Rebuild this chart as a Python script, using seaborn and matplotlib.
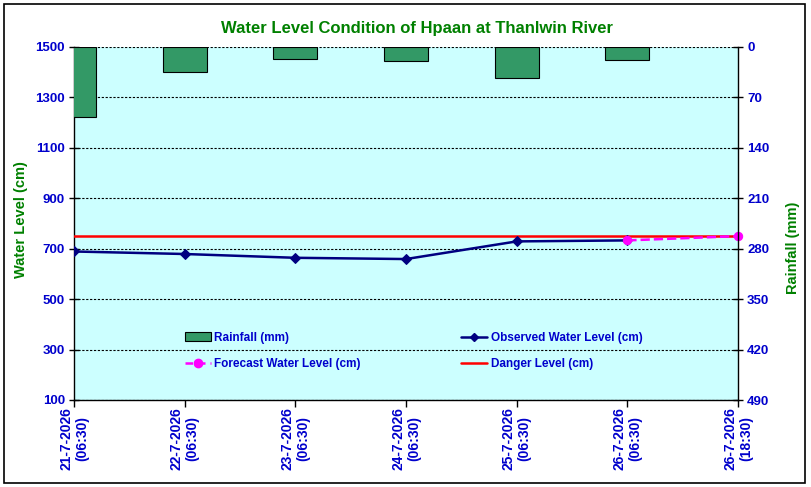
import matplotlib
matplotlib.use("Agg")
import matplotlib.pyplot as plt
from matplotlib.lines import Line2D
from matplotlib.patches import Patch, Rectangle
import seaborn as sns
import numpy as np

# ---- data ----
tick_labels = ["21-7-2026\n(06:30)", "22-7-2026\n(06:30)", "23-7-2026\n(06:30)",
               "24-7-2026\n(06:30)", "25-7-2026\n(06:30)", "26-7-2026\n(06:30)",
               "26-7-2026\n(18:30)"]
rain_pos = [0, 1, 2, 3, 4, 5]
rainfall_mm = [97, 35, 17, 20, 43, 18]
obs_pos = [0, 1, 2, 3, 4, 5]
observed_cm = [689, 679, 664, 659, 729, 733]
fc_pos = [5, 6]
forecast_cm = [733, 750]
danger_cm = 750

sns.set_theme(style="white")
plt.rcParams['font.family'] = ['Liberation Sans', 'DejaVu Sans']
plt.rcParams['font.weight'] = 'bold'

BLUE = '#0000CC'
GREEN = '#008000'

fig = plt.figure(figsize=(8.11, 4.87), dpi=100)
fig.patch.set_facecolor('white')
ax1 = fig.add_axes([74/811, 1-400/487, (738-74)/811, (400-47)/487])
ax1.set_facecolor('#CCFFFF')
ax2 = ax1.twinx()
ax2.set_facecolor('none')

# rainfall bars (right axis, inverted)
sns.barplot(x=rain_pos, y=rainfall_mm, native_scale=True, width=0.4,
            color='#339966', edgecolor='black', linewidth=0.8, saturation=1,
            ax=ax2, zorder=3)

# water levels (left axis)
sns.lineplot(x=obs_pos, y=observed_cm, ax=ax1, color='#000080', linewidth=1.8,
             marker='D', markersize=5.5, markeredgecolor='#000080', zorder=4)
sns.lineplot(x=fc_pos, y=forecast_cm, ax=ax1, color='#FF00FF', linewidth=1.8,
             linestyle='--', marker='o', markersize=6, markeredgecolor='#FF00FF',
             zorder=5, clip_on=False)
ax1.axhline(danger_cm, color='#FF0000', linewidth=1.8, zorder=3)

ax1.set_ylim(100, 1500)
ax1.set_yticks(np.arange(100, 1501, 200))
ax2.set_ylim(490, 0)
ax2.set_yticks(np.arange(0, 491, 70))
ax2.set_xlabel('')

ax1.yaxis.grid(True, color='black', linestyle=(0, (2, 1.5)), linewidth=0.8)
ax1.set_axisbelow(True)

ax1.set_xticks(range(len(tick_labels)))
ax1.set_xticklabels(tick_labels, rotation=90, ha='center', va='top',
                    multialignment='center', fontsize=10, fontweight='bold', color=BLUE,
                    linespacing=1.15)
ax1.set_xlim(0, 6)

for ax in (ax1, ax2):
    for s in ax.spines.values():
        s.set_visible(False)
ax1.spines['left'].set_visible(True)
ax1.spines['bottom'].set_visible(True)
ax2.spines['right'].set_visible(True)
for sp in (ax1.spines['left'], ax1.spines['bottom'], ax2.spines['right']):
    sp.set_color('black')
    sp.set_linewidth(1.0)

ax1.tick_params(axis='y', direction='inout', length=7, width=1, colors='black',
                labelcolor=BLUE, labelsize=9.5, left=True, pad=3)
ax1.tick_params(axis='x', direction='out', length=5, width=1, colors='black',
                labelcolor=BLUE, bottom=True, labelbottom=True, pad=0)
ax2.tick_params(axis='y', direction='inout', length=7, width=1, colors='black',
                labelcolor=BLUE, labelsize=9.5, right=True, pad=3)
for lab in ax1.get_yticklabels() + ax2.get_yticklabels():
    lab.set_fontweight('bold')

ax1.set_ylabel('Water Level (cm)', color=GREEN, fontsize=10.5, fontweight='bold')
ax1.yaxis.set_label_coords((28 - 74) / 664, (400 - 220) / 353)
ax2.set_ylabel('Rainfall (mm)', color=GREEN, fontsize=10.5, fontweight='bold')
ax2.yaxis.set_label_coords((786 - 74) / 664, (400 - 248) / 353)
ax1.set_xlabel('')

fig.text(417/811, 1-28/487, 'Water Level Condition of Hpaan at Thanlwin River',
         ha='center', va='center', color=GREEN, fontsize=12, fontweight='bold')

handles = [
    Patch(facecolor='#339966', edgecolor='black', linewidth=0.8),
    Line2D([], [], color='#FF00FF', linestyle=(0, (3, 2)), marker='o', markersize=6, linewidth=1.8),
    Line2D([], [], color='#000080', marker='D', markersize=4, linewidth=1.8),
    Line2D([], [], color='#FF0000', linewidth=1.8),
]
labels = ['Rainfall (mm)', 'Forecast Water Level (cm)', 'Observed Water Level (cm)', 'Danger Level (cm)']
leg = ax2.legend(handles, labels, ncol=2, frameon=False, loc='upper left',
                 bbox_to_anchor=((180-74)/664, (400-327)/353), fontsize=8.5,
                 handlelength=2.2, handletextpad=0.3, columnspacing=8.5,
                 labelspacing=1.2, borderaxespad=0)
for t in leg.get_texts():
    t.set_color(BLUE)
    t.set_fontweight('bold')

fig.patches.append(Rectangle((4/811, 4/487), 801/811, 479/487, transform=fig.transFigure,
                             fill=False, edgecolor='black', linewidth=1.2))

fig.savefig('out.png', dpi=100)
